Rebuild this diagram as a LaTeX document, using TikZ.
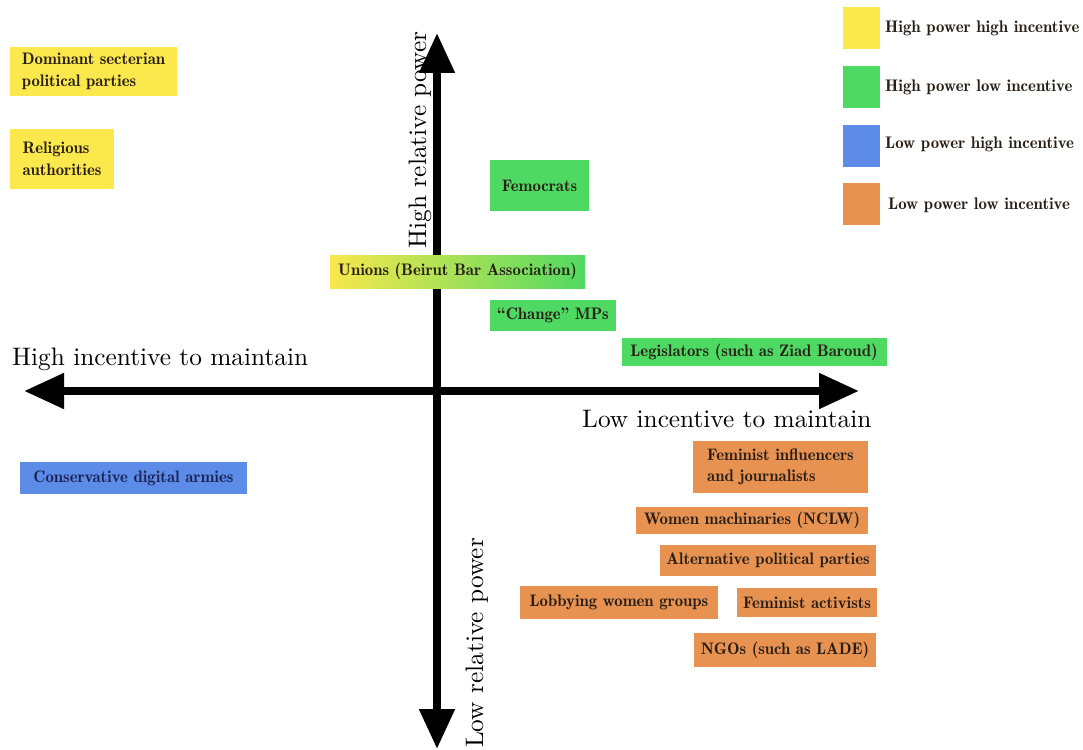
\documentclass[tikz,border=0pt]{standalone}
\usepackage{fontspec}
\usetikzlibrary{arrows.meta}
\newfontfamily\demi{lmromandemi10-regular.otf}
\newfontfamily\axfont{lmroman10-regular.otf}
\definecolor{yel}{RGB}{251,232,76}
\definecolor{grn}{RGB}{78,217,98}
\definecolor{blu}{RGB}{92,140,232}
\definecolor{org}{RGB}{232,146,82}
\definecolor{txt}{RGB}{40,30,22}
\definecolor{navy}{RGB}{26,34,80}
\pgfdeclarehorizontalshading{unionshade}{100bp}{color(0bp)=(yel); color(24bp)=(yel); color(76bp)=(grn); color(100bp)=(grn)}
\begin{document}
\begin{tikzpicture}[x=1pt,y=-1pt,
  box/.style={inner sep=0pt, font=\demi\fontsize{16.7}{21.5}\selectfont, text=txt, align=left},
  legtxt/.style={anchor=west, inner sep=0pt, font=\demi\fontsize{16.8}{20}\selectfont, text=txt},
  sq/.style={inner sep=0pt, minimum width=37pt, minimum height=42pt},
  axis/.style={line width=8pt, {Triangle[width=34pt,length=40pt]}-{Triangle[width=34pt,length=40pt]}},
  axlab/.style={font=\axfont\fontsize{25.3}{30}\selectfont, inner sep=0pt, text=black}]
\useasboundingbox (0,0) rectangle (1083,749);
% axes
\coordinate (T) at (437,33);
\coordinate (B) at (437,749);
\coordinate (L) at (24,391);
\coordinate (R) at (859,391);
\draw[axis] (B) -- (T);
\draw[axis] (L) -- (R);
% axis labels
\node[axlab, rotate=90, anchor=base] (hp) at (426,140) {High relative power};
\node[axlab, rotate=90, anchor=base] (lp) at (483,643) {Low relative power};
\node[axlab, anchor=base west] (hi) at (12,365) {High incentive to maintain};
\node[axlab, anchor=base west] (li) at (582,427) {Low incentive to maintain};
% boxes
\node[box, fill=yel, minimum width=167pt, minimum height=49pt] (dom) at (93.5,71.5) {Dominant secterian\\political parties};
\node[box, fill=yel, minimum width=104pt, minimum height=60pt] (rel) at (62,159) {Religious\\authorities};
\node[box, fill=grn, minimum width=99pt, minimum height=51pt] (fem) at (539.5,185.5) {Femocrats};
\node[box, shading=unionshade, minimum width=255pt, minimum height=33pt] (uni) at (457.5,271.5) {Unions (Beirut Bar Association)};
\node[box, fill=grn, minimum width=126pt, minimum height=31pt] (chg) at (553,315.5) {“Change” MPs};
\node[box, fill=grn, minimum width=265pt, minimum height=28pt] (leg) at (754,352) {Legislators (such as Ziad Baroud)};
\node[box, fill=blu, text=navy, minimum width=227pt, minimum height=32pt] (con) at (133.5,478) {Conservative digital armies};
\node[box, fill=org, minimum width=175pt, minimum height=52pt] (inf) at (780.5,467) {Feminist influencers\\and journalists};
\node[box, fill=org, minimum width=232pt, minimum height=27pt] (wom) at (752,520.5) {Women machinaries (NCLW)};
\node[box, fill=org, minimum width=216pt, minimum height=31pt] (alt) at (768,560.5) {Alternative political parties};
\node[box, fill=org, minimum width=198pt, minimum height=33pt] (lob) at (619,602.5) {Lobbying women groups};
\node[box, fill=org, minimum width=140pt, minimum height=29pt] (act) at (807,602.5) {Feminist activists};
\node[box, fill=org, minimum width=182pt, minimum height=34pt] (ngo) at (785,650) {NGOs (such as LADE)};
% legend
\node[sq, fill=yel] (s1) at (861.5,28) {};
\node[sq, fill=grn] (s2) at (861.5,87) {};
\node[sq, fill=blu] (s3) at (861.5,145.5) {};
\node[sq, fill=org] (s4) at (861.5,204) {};
\node[legtxt] (t1) at (885,28) {High power high incentive};
\node[legtxt] (t2) at (885,87) {High power low incentive};
\node[legtxt] (t3) at (885,144) {Low power high incentive};
\node[legtxt] (t4) at (888,205) {Low power low incentive};
\end{tikzpicture}
\end{document}
